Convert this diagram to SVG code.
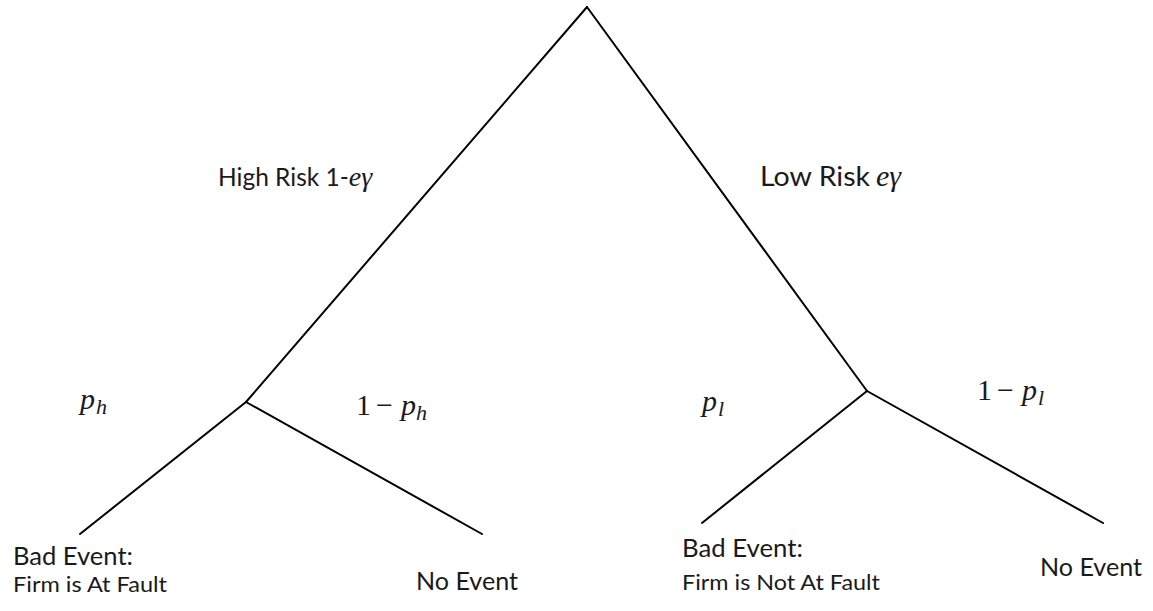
<svg xmlns="http://www.w3.org/2000/svg" width="1153" height="611" viewBox="0 0 1153 611">
<style>
.edge{stroke:#000;stroke-width:2;fill:none;stroke-linecap:round}
.lbl{font-family:Lato,"Open Sans","Liberation Sans",sans-serif;fill:#1a1a1a}
.m{font-family:"Liberation Serif","DejaVu Serif",serif;fill:#1a1a1a}
.mi{font-style:italic}
</style>
<rect width="1153" height="611" fill="#fff"/>
<g id="connectors">
<line class="edge" x1="587" y1="7" x2="246" y2="402"/>
<line class="edge" x1="587" y1="7" x2="867" y2="391"/>
<line class="edge" x1="246" y1="402" x2="80" y2="534"/>
<line class="edge" x1="246" y1="402" x2="482" y2="534"/>
<line class="edge" x1="867" y1="391" x2="702" y2="523"/>
<line class="edge" x1="867" y1="391" x2="1103" y2="523"/>
</g>
<g id="edge-labels">
<text class="lbl" font-size="24.5" y="186" x="218">High Risk 1-<tspan class="m mi" font-size="28">eγ</tspan></text>
<text class="lbl" font-size="26" y="186"><tspan x="760" textLength="110" lengthAdjust="spacingAndGlyphs">Low Risk</tspan><tspan class="m mi" x="876" font-size="30">eγ</tspan></text>
<text class="m" font-size="30" y="409"><tspan class="mi" x="80">p</tspan><tspan class="mi" x="96" dy="5" font-size="22">h</tspan></text>
<text class="m" font-size="30" y="415"><tspan x="356">1</tspan><tspan x="376">−</tspan><tspan class="mi" x="401">p</tspan><tspan class="mi" x="416" dy="5" font-size="22">h</tspan></text>
<text class="m" font-size="30" y="411"><tspan class="mi" x="702">p</tspan><tspan class="mi" x="718" dy="5" font-size="22">l</tspan></text>
<text class="m" font-size="30" y="400"><tspan x="977">1</tspan><tspan x="997">−</tspan><tspan class="mi" x="1022">p</tspan><tspan class="mi" x="1038" dy="5" font-size="22">l</tspan></text>
</g>
<g id="root"/>
<g id="high-risk"/>
<g id="low-risk"/>
<g id="leaf-hr-bad">
<text class="lbl" x="13" y="565" font-size="25" textLength="120" lengthAdjust="spacingAndGlyphs">Bad Event:</text>
<text class="lbl" x="13" y="592" font-size="21" textLength="154" lengthAdjust="spacingAndGlyphs">Firm is At Fault</text>
</g>
<g id="leaf-hr-none">
<text class="lbl" x="416" y="590" font-size="25" textLength="102" lengthAdjust="spacingAndGlyphs">No Event</text>
</g>
<g id="leaf-lr-bad">
<text class="lbl" x="682" y="557" font-size="25" textLength="121" lengthAdjust="spacingAndGlyphs">Bad Event:</text>
<text class="lbl" x="682" y="590" font-size="21" textLength="198" lengthAdjust="spacingAndGlyphs">Firm is Not At Fault</text>
</g>
<g id="leaf-lr-none">
<text class="lbl" x="1040" y="576" font-size="25" textLength="102" lengthAdjust="spacingAndGlyphs">No Event</text>
</g>
</svg>
